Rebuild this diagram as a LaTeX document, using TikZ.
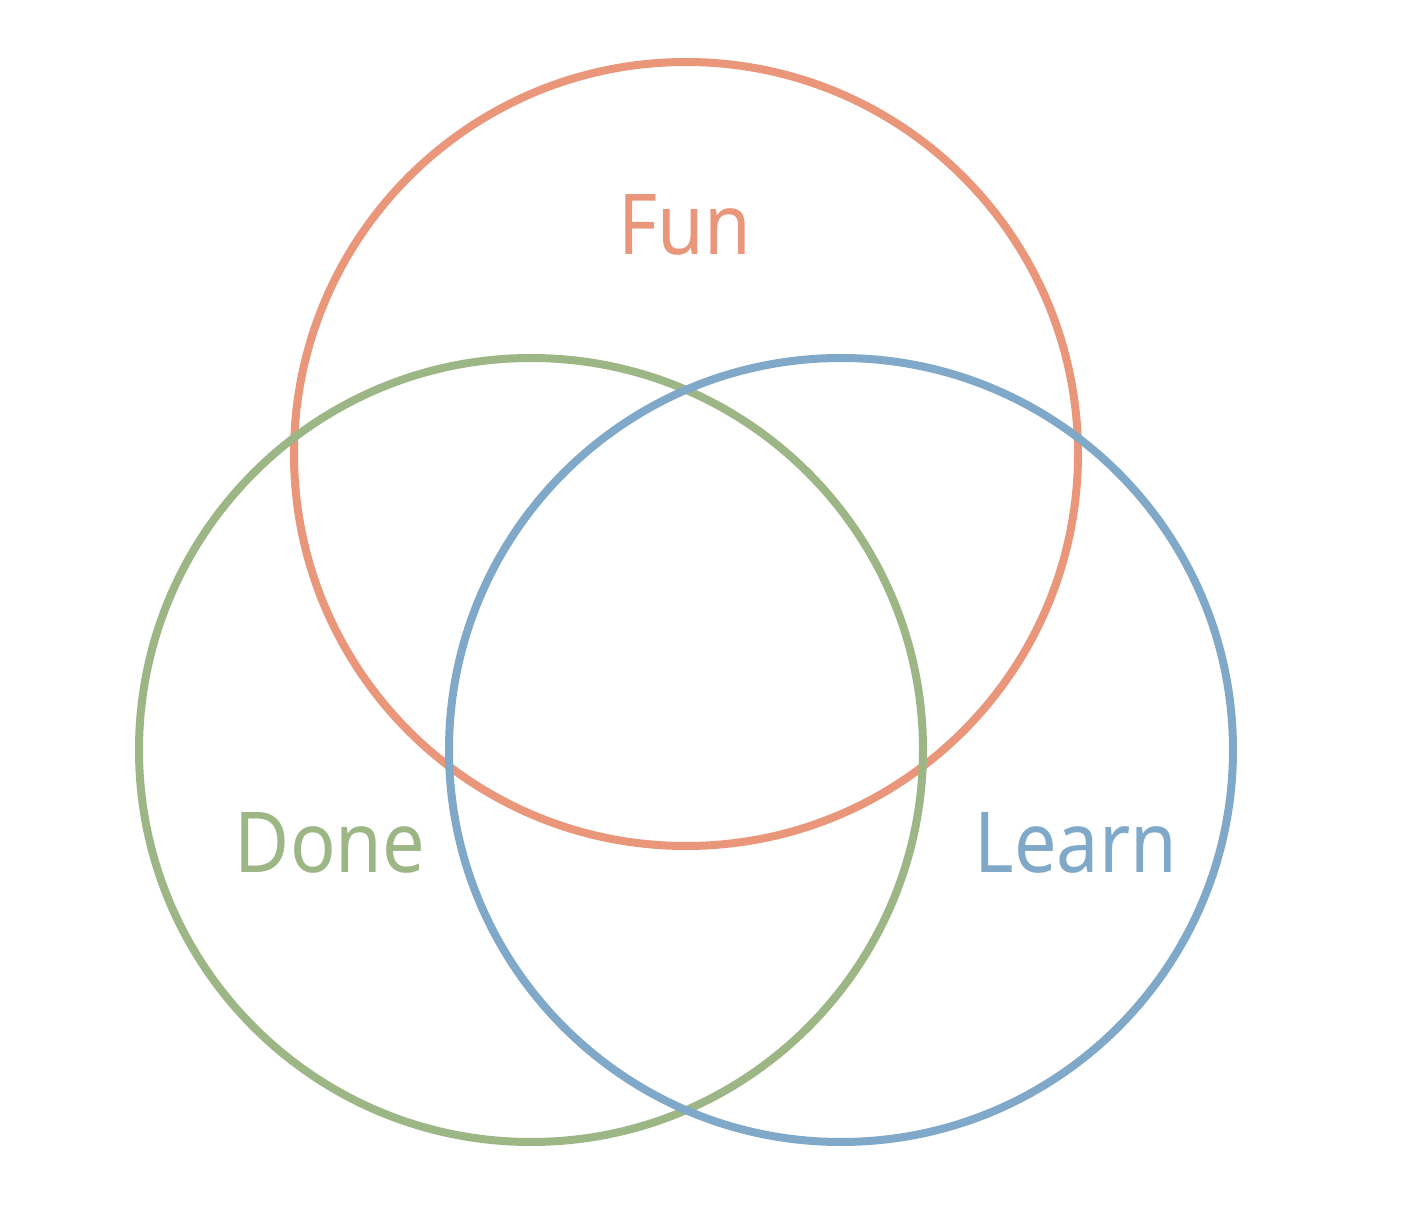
\documentclass[tikz,border=0pt]{standalone}
\usepackage{fontspec}
\newfontfamily\lblfont[FakeStretch=0.9]{Noto Sans}
\definecolor{cfun}{HTML}{EA967A}
\definecolor{cdone}{HTML}{9DB686}
\definecolor{clearn}{HTML}{7FA8C9}
\tikzset{
  ring/.style={line width=4pt},
  lbl/.style={anchor=base, inner sep=0pt, font=\lblfont\fontsize{42}{50}\selectfont},
}
\begin{document}
\begin{tikzpicture}[x=0.5pt,y=-0.5pt]
\useasboundingbox (0,0) rectangle (1410,1208);
\draw[ring, cfun] (686,454) circle [radius=196pt];
\draw[ring, cdone] (531,750) circle [radius=196pt];
\draw[ring, clearn] (841,750) circle [radius=196pt];
\node[lbl, text=cfun] (fun) at (685,255) {Fun};
\node[lbl, text=cdone] (done) at (330,872) {Done};
\node[lbl, text=clearn] (learn) at (1076,872) {Learn};
\end{tikzpicture}
\end{document}
